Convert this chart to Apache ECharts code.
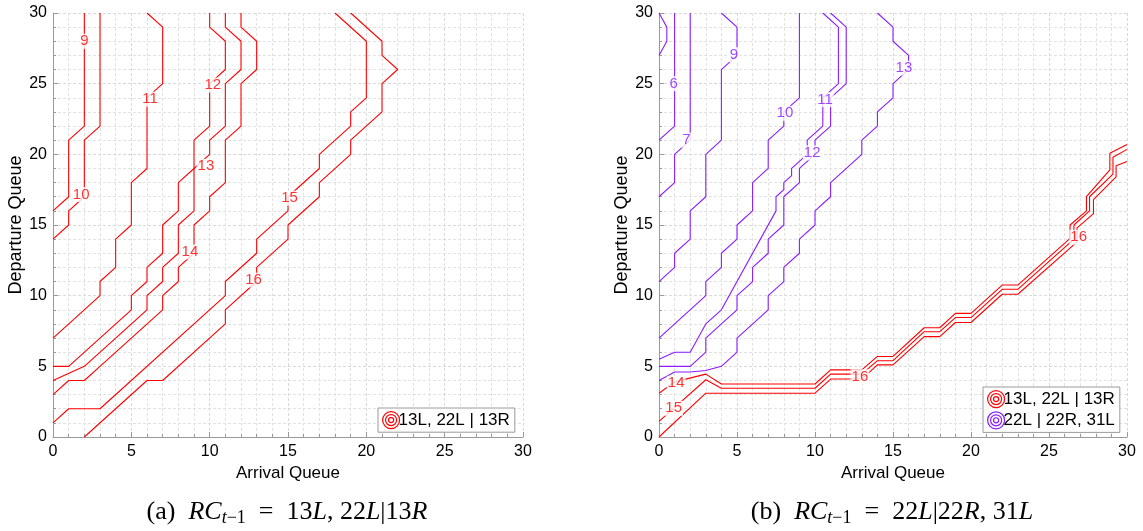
<!DOCTYPE html>
<html><head><meta charset="utf-8">
<script src="https://cdn.jsdelivr.net/npm/echarts@6/dist/echarts.min.js"></script>
<style>html,body{margin:0;padding:0;background:#fff}#c{width:1143px;height:531px}</style>
</head><body><div id="c"></div>
<script>
// ---------- data: panel (a)  RC = 13L, 22L|13R ----------
const a9  = [[2,30],[2,22],[1,21],[1,17],[0,16]];
const a10 = [[3,30],[3,22],[2,21],[2,17],[1,16],[1,15],[0,14]];
const a11 = [[6,30],[7,29],[7,25],[6,24],[6,19],[5,18],[5,15],[4,14],[4,12],[3,11],[3,10],[0,7]];
const a12 = [[10,30],[10,29],[11,28],[11,26],[10,25],[10,22],[9,21],[9,19],[8,18],[8,16],[7,15],[7,13],[6,12],[6,11],[5,10],[5,9],[1,5],[0,5]];
const a13 = [[11,30],[11,29],[12,28],[12,26],[11,25],[11,22],[10,21],[10,20],[9,19],[9,16],[8,15],[8,13],[7,12],[7,11],[6,10],[6,9],[2,5],[0,4]];
const a14 = [[12,30],[12,29],[13,28],[13,26],[12,25],[12,22],[11,21],[11,18],[10,17],[10,16],[9,15],[9,13],[8,12],[8,11],[7,10],[7,9],[3,5],[2,4],[1,4],[0,3]];
const a15 = [[18,30],[20,28],[20,24],[19,23],[19,22],[17,20],[17,19],[15,17],[15,16],[13,14],[13,13],[11,11],[11,10],[3,2],[1,2],[0,1]];
const a16 = [[19,30],[21,28],[21,27],[22,26],[21,25],[21,23],[19,21],[19,20],[17,18],[17,17],[15,15],[15,14],[13,12],[13,11],[11,9],[11,8],[7,4],[6,4],[2,0]];
const aLabels = [[2,28,'9'],[1.8,17.15,'10'],[6.2,23.9,'11'],[10.2,24.9,'12'],[9.76,19.15,'13'],[8.74,13.1,'14'],[15.1,16.9,'15'],[12.8,11.1,'16']];

// ---------- data: panel (b)  RC = 22L|22R, 31L ----------
// purple (22L | 22R, 31L)
const b5  = [[0,30],[0.5,29],[0.5,28],[0,27]];
const b6  = [[1,30],[1,22],[0,21]];
const b7  = [[2,30],[2,21],[1,20],[1,18],[0,17]];
const b9  = [[4,30],[5,29],[5,27],[4,26],[4,21],[3,20],[3,17],[2,16],[2,14],[1,13],[1,12],[0,11]];
const b10 = [[9,30],[9,24],[8,23],[8,22],[7,21],[7,19],[6,18],[6,16],[5,15],[5,14],[4,13],[4,12],[3,11],[3,10],[0,7]];
const b11 = [[10.5,30],[11.5,29],[11.5,25],[10.5,24],[10.5,22],[9.5,21],[9.5,20],[9,19.5],[8.5,19],[8.5,18.5],[8,18],[8,17.5],[7.5,17],[7.5,16],[4,9],[3,8],[2,6],[1,6],[0,5.5]];
const b12 = [[11,30],[12,29],[12,25],[11,24],[11,22],[10,21],[10,20],[9,19],[9,18],[8,17],[8,15],[7,14],[7,13],[6,12],[6,11],[5,10],[5,9],[4,8],[3,7],[3,6],[2,5],[0,5]];
const b13 = [[14,30],[15,29],[15,28],[16,27],[16,26],[15,25],[15,24],[14,23],[14,22],[13,21],[13,20],[11,18],[11,17],[10,16],[10,15],[9,14],[9,13],[8,12],[8,11],[7,10],[7,9],[5,7],[5,6],[4,5],[3,4.7],[2,4.6],[1,4.6],[0,4]];
const bPurpleLabels = [[0.94,25,'6'],[1.75,21,'7'],[4.8,27.05,'9'],[8.07,22.9,'10'],[10.64,23.87,'11'],[9.82,20.1,'12'],[15.7,26.1,'13']];
// red (13L, 22L | 13R)
const b14 = [[0,3.1],[1,3.9],[3,4.45],[4,3.75],[10,3.75],[11,4.75],[13,4.75],[14,5.7],[15,5.7],[17,7.73],[18,7.73],[19,8.75],[20,8.75],[22,10.75],[23,10.75],[26.35,14.05],[26.35,15],[27.4,16],[27.4,17],[28.9,18.9],[28.9,20.07],[30,20.7]];
const b15 = [[0,1.1],[3,4.05],[4,3.45],[10,3.45],[11,4.45],[13,4.45],[14,5.4],[15,5.4],[17,7.45],[18,7.45],[19,8.45],[20,8.45],[22,10.45],[23,10.45],[26.6,14],[26.6,15],[27.6,16],[27.6,17],[29.1,18.6],[29.1,19.8],[30,20.35]];
const b16 = [[0,0],[3,3.1],[10,3.1],[11,4.1],[13,4.1],[14,5.1],[15,5.1],[17,7.1],[18,7.1],[19,8.1],[20,8.1],[22,10.1],[23,10.1],[26.8,13.8],[26.8,14.8],[27.85,15.8],[27.85,16.8],[29.3,18.4],[29.3,19.2],[30,19.5]];
const bRedLabels = [[1.1,3.8,'14'],[0.94,2.03,'15'],[12.88,4.27,'16'],[26.9,14.13,'16']];

const legendNames = ['13L, 22L | 13R', '22L | 22R, 31L'];
const RED = '#ff0000', PURPLE = '#8a1cff';
const SANS = 'Liberation Sans', SERIF = 'Liberation Serif';

const chart = echarts.init(document.getElementById('c'), null, {renderer: 'canvas'});

function mkAxis(idx, isX) {
  return {
    type: 'value', gridIndex: idx, min: 0, max: 30, interval: 5,
    name: isX ? 'Arrival Queue' : 'Departure Queue',
    nameLocation: 'middle', nameGap: isX ? 21 : 22,
    nameTextStyle: {fontFamily: SANS, fontSize: isX ? 17 : 18, color: '#000'},
    axisLine: {show: true, onZero: false, lineStyle: {color: '#9a9a9a', width: 1}},
    axisTick: {show: true, inside: true, length: 5, lineStyle: {color: '#9a9a9a'}},
    minorTick: {show: true, splitNumber: 5, length: 3, lineStyle: {color: '#9a9a9a'}},
    axisLabel: {fontFamily: SANS, fontSize: 16, color: '#000', margin: isX ? 7 : 6},
    splitLine: {show: true, lineStyle: {color: '#d9d9d9', type: [3, 2], width: 1}},
    minorSplitLine: {show: true, lineStyle: {color: '#e2e2e2', type: [3, 2], width: 1}}
  };
}

function lineS(name, data, color, gi) {
  return {type: 'line', name: name, data: data, xAxisIndex: gi, yAxisIndex: gi,
    color: color, showSymbol: false, symbol: 'none', silent: true, z: 3,
    lineStyle: {color: color, width: 1.1}};
}
function labS(data, color, gi) {
  return {type: 'scatter', name: 'lab' + gi + color, data: data, xAxisIndex: gi, yAxisIndex: gi,
    symbolSize: 1, itemStyle: {color: 'rgba(0,0,0,0)'}, silent: true, z: 5,
    label: {show: true, position: 'inside', formatter: p => p.value[2],
      color: color, fontFamily: SANS, fontSize: 15, backgroundColor: '#fff', padding: [0, 1]}};
}

const ringIcon = 'path://M0,10a10,10 0 1,0 20,0a10,10 0 1,0 -20,0M3.5,10a6.5,6.5 0 1,0 13,0a6.5,6.5 0 1,0 -13,0M7,10a3,3 0 1,0 6,0a3,3 0 1,0 -6,0';

const series = [];
[a9, a10, a11, a12, a13, a14, a15, a16].forEach(d => series.push(lineS(legendNames[0], d, RED, 0)));
series.push(labS(aLabels, RED, 0));
[b5, b6, b7, b9, b10, b11, b12, b13].forEach(d => series.push(lineS(legendNames[1], d, PURPLE, 1)));
[b14, b15, b16].forEach(d => series.push(lineS(legendNames[0], d, RED, 1)));
series.push(labS(bPurpleLabels, PURPLE, 1));
series.push(labS(bRedLabels, RED, 1));

function mkLegend(left, top, names, colors) {
  return {
    left: left, top: top, orient: 'vertical',
    data: names.map((n, k) => ({name: n, icon: ringIcon,
      itemStyle: {color: 'rgba(0,0,0,0)', borderColor: colors[k], borderWidth: 1.2}})),
    itemWidth: 17, itemHeight: 17, itemGap: 3, padding: [3, 5, 3, 4],
    borderColor: '#9a9a9a', borderWidth: 1, backgroundColor: '#fff',
    selectedMode: false,
    textStyle: {fontFamily: SANS, fontSize: 17, color: '#000', padding: [0, 0, 0, -6]}
  };
}

function caption(x, parts) {
  const base = {fontFamily: SERIF, fontSize: 26, fill: '#000', lineHeight: 30, verticalAlign: 'middle'};
  return {type: 'text', x: x, y: 512, z: 10,
    style: {text: parts, align: 'center', verticalAlign: 'middle',
      rich: {
        n: base,
        i: Object.assign({}, base, {fontStyle: 'italic'}),
        s: {fontFamily: SERIF, fontSize: 18, fill: '#000', lineHeight: 17, verticalAlign: 'bottom'},
        si: {fontFamily: SERIF, fontSize: 18, fontStyle: 'italic', fill: '#000', lineHeight: 17, verticalAlign: 'bottom'}
      }}};
}

chart.setOption({
  animation: false,
  backgroundColor: '#fff',
  grid: [
    {left: 53, top: 13, width: 470, height: 424, containLabel: false},
    {left: 659, top: 13, width: 468, height: 424, containLabel: false}
  ],
  xAxis: [mkAxis(0, true), mkAxis(1, true)],
  yAxis: [mkAxis(0, false), mkAxis(1, false)],
  legend: [mkLegend(378, 408, [legendNames[0]], [RED]), mkLegend(983, 387, legendNames, [RED, PURPLE])],
  series: series,
  graphic: [
    caption(287, '{n|(a)  }{i|RC}{si|t}{s|−1}{n|  =  13}{i|L}{n|, 22}{i|L}{n||13}{i|R}'),
    caption(892, '{n|(b)  }{i|RC}{si|t}{s|−1}{n|  =  22}{i|L}{n||22}{i|R}{n|, 31}{i|L}')
  ]
});
</script></body></html>
